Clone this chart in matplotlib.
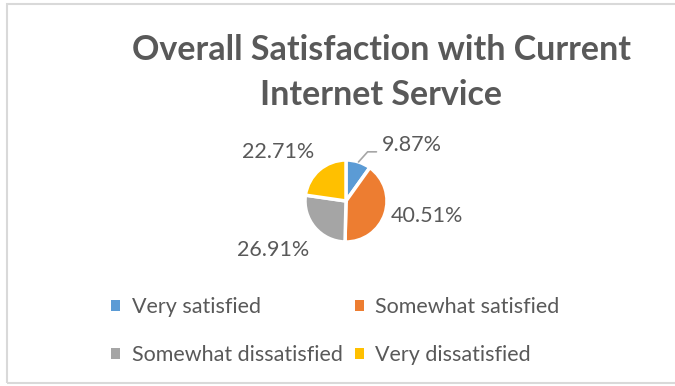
import numpy as np
import matplotlib.pyplot as plt

plt.rcParams['font.family'] = ['Lato', 'DejaVu Sans']

categories = ['Very satisfied', 'Somewhat satisfied', 'Somewhat dissatisfied', 'Very dissatisfied']
shares = [9.87, 40.51, 26.91, 22.71]
colors = ['#5B9BD5', '#ED7D31', '#A5A5A5', '#FFC000']
# label centres in pie-radius units
label_pos = [(1.61, 1.37), (1.98, -0.37), (-1.78, -1.20), (-1.66, 1.20)]
title_lines = ['Overall Satisfaction with Current', 'Internet Service']

W, H = 675, 386
text_color = '#595959'


def fx(px):
    return px / W


def fy(py):
    return 1 - py / H


fig = plt.figure(figsize=(W / 100, H / 100), dpi=100)

# chart area border
fig.patches.append(plt.Rectangle((fx(7), fy(383)), fx(700) - fx(7), fy(4) - fy(383),
                                 transform=fig.transFigure, fill=False,
                                 edgecolor='#D9D9D9', linewidth=1.5))

for line, base in zip(title_lines, [60, 105]):
    fig.text(fx(381), fy(base), line, ha='center', va='baseline', fontsize=24.5,
             fontweight='bold', color=text_color)

cx, cy, r = 346, 201, 41
ax = fig.add_axes([fx(cx - r), fy(cy + r), fx(2 * r), (2 * r) / H])
wedges, _ = ax.pie(shares, colors=colors, startangle=90, counterclock=False,
                   radius=1, wedgeprops=dict(edgecolor='white', linewidth=2.5))
ax.set_xlim(-1, 1)
ax.set_ylim(-1, 1)
ax.axis('off')

for i, (v, w) in enumerate(zip(shares, wedges)):
    lx, ly = label_pos[i]
    txt = f'{v:.2f}%'
    if i == 0:
        mid = np.deg2rad((w.theta1 + w.theta2) / 2)
        ax.annotate(txt, xy=(np.cos(mid), np.sin(mid)), xytext=(lx, ly),
                    ha='center', va='center', fontsize=15.5, color=text_color,
                    annotation_clip=False,
                    arrowprops=dict(arrowstyle='-', color='#A6A6A6', lw=1.2,
                                    shrinkA=2, shrinkB=0, relpos=(0, 0.15),
                                    connectionstyle='angle,angleA=0,angleB=48,rad=0'))
    else:
        ax.text(lx, ly, txt, ha='center', va='center', fontsize=15.5,
                color=text_color, clip_on=False)

order = [0, 2, 1, 3]
leg = fig.legend([wedges[i] for i in order], [categories[i] for i in order],
                 loc='upper left', bbox_to_anchor=(fx(111), fy(297)),
                 ncol=2, frameon=False, fontsize=15.5, labelcolor=text_color,
                 handlelength=0.42, handleheight=0.42, handletextpad=0.55,
                 columnspacing=0.55, labelspacing=1.3, borderpad=0, borderaxespad=0)
for h in leg.legend_handles:
    h.set_edgecolor('none')

fig.savefig('out.png', dpi=100)
